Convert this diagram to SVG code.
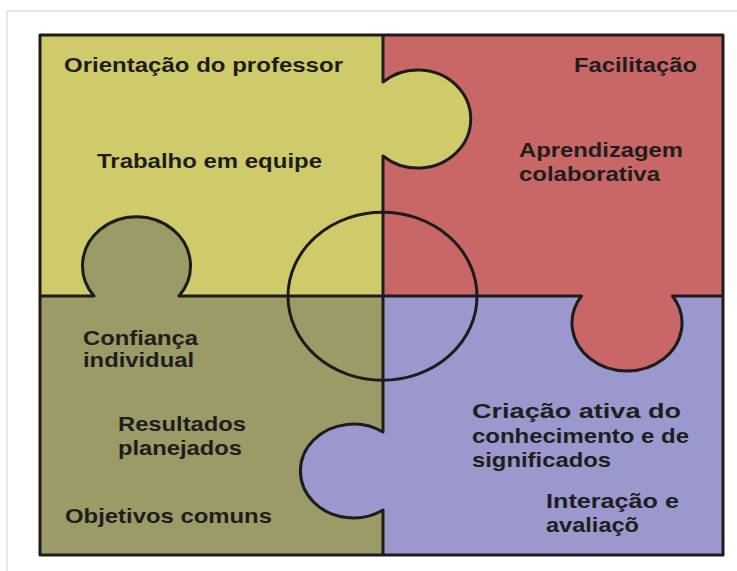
<svg xmlns="http://www.w3.org/2000/svg" width="737" height="571" viewBox="0 0 737 571">
<style>
.ln{fill:none;stroke:#1c1c1e;stroke-width:3;stroke-linejoin:round}
.t{font-family:"Liberation Sans",Arial,sans-serif;font-weight:bold;font-size:21px;fill:#1e1e1e}
.y{fill:#cfcb6a}.r{fill:#c96666}.o{fill:#9c9a66}.v{fill:#9a98cc}
</style>
<rect width="737" height="571" fill="#fff"/>
<path d="M7,571 V11 H737" fill="none" stroke="#cfcfcf" stroke-width="1"/>
<g id="piece-yellow">
<path class="y" d="M40,35 H383 V82 A53,49 0 1 1 383,156 V296 H179 A54,49 0 1 0 94,296 H40 Z"/>
<text class="t" x="64" y="72" textLength="279" lengthAdjust="spacingAndGlyphs">Orientação do professor</text>
<text class="t" x="97" y="168" textLength="225" lengthAdjust="spacingAndGlyphs">Trabalho em equipe</text>
</g>
<g id="piece-red">
<path class="r" d="M383,35 H723 V296 H672.5 A55,48 0 1 1 581.5,296 H383 V156 A53,49 0 1 0 383,82 Z"/>
<text class="t" x="574" y="72" textLength="123" lengthAdjust="spacingAndGlyphs">Facilitação</text>
<text class="t" x="519" y="157" textLength="164" lengthAdjust="spacingAndGlyphs">Aprendizagem</text>
<text class="t" x="519" y="181" textLength="141" lengthAdjust="spacingAndGlyphs">colaborativa</text>
</g>
<g id="piece-olive">
<path class="o" d="M40,296 H94 A54,49 0 1 1 179,296 H383 V432 A53,47 0 1 0 383,510 V555 H40 Z"/>
<text class="t" x="83" y="345" textLength="115" lengthAdjust="spacingAndGlyphs">Confiança</text>
<text class="t" x="83" y="367" textLength="111" lengthAdjust="spacingAndGlyphs">individual</text>
<text class="t" x="118" y="431" textLength="128" lengthAdjust="spacingAndGlyphs">Resultados</text>
<text class="t" x="118" y="455" textLength="124" lengthAdjust="spacingAndGlyphs">planejados</text>
<text class="t" x="65" y="523" textLength="207" lengthAdjust="spacingAndGlyphs">Objetivos comuns</text>
</g>
<g id="piece-lavender">
<path class="v" d="M383,296 H581.5 A55,48 0 1 0 672.5,296 H723 V555 H383 V510 A53,47 0 1 1 383,432 Z"/>
<text class="t" x="472" y="418" textLength="209" lengthAdjust="spacingAndGlyphs">Criação ativa do</text>
<text class="t" x="472" y="443" textLength="217" lengthAdjust="spacingAndGlyphs">conhecimento e de</text>
<text class="t" x="472" y="467" textLength="139" lengthAdjust="spacingAndGlyphs">significados</text>
<text class="t" x="546" y="508" textLength="133" lengthAdjust="spacingAndGlyphs">Interação e</text>
<text class="t" x="546" y="532" textLength="93" lengthAdjust="spacingAndGlyphs">avaliaçõ</text>
</g>
<g id="outlines">
<path class="ln" d="M383,35 V82 A53,49 0 1 1 383,156 V432 A53,47 0 1 0 383,510 V555"/>
<path class="ln" d="M40,296 H94 A54,49 0 1 1 179,296 H581.5 A55,48 0 1 0 672.5,296 H723"/>
<ellipse class="ln" cx="382.5" cy="296.3" rx="94.5" ry="84"/>
<rect class="ln" x="40" y="35" width="683" height="520"/>
</g>
</svg>
